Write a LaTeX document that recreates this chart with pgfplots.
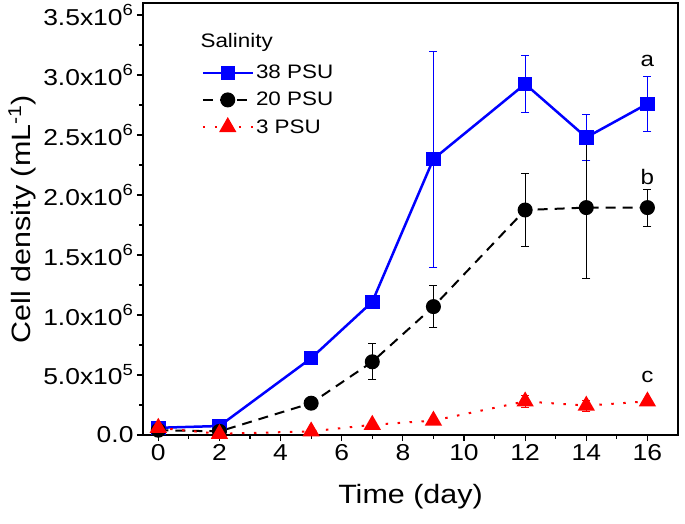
\documentclass[border=0pt]{standalone}
\usepackage{pgfplots}
\pgfplotsset{compat=1.18}
\usepackage{fontspec}
\setmainfont{Liberation Sans}[FakeStretch=1.15]
\begin{document}
\begin{tikzpicture}
\begin{axis}[
 scale only axis, width=535pt, height=432pt,
 xmin=-0.5, xmax=17, ymin=0, ymax=3600000,
 xtick={0,2,...,16}, minor x tick num=1,
 ytick={0,500000,1000000,1500000,2000000,2500000,3000000,3500000}, minor y tick num=1,
 yticklabels={0.0, 5.0x10\textsuperscript{5}, 1.0x10\textsuperscript{6}, 1.5x10\textsuperscript{6}, 2.0x10\textsuperscript{6}, 2.5x10\textsuperscript{6}, 3.0x10\textsuperscript{6}, 3.5x10\textsuperscript{6}},
 scaled y ticks=false,
 tick align=outside, tick pos=left,
 major tick length=6pt, minor tick length=3.5pt,
 tick style={black, line width=1.2pt},
 axis line style={line width=1.3pt},
 ticklabel style={font=\fontsize{23}{25}\selectfont},
 /pgf/number format/assume math mode=true,
 xlabel={Time (day)}, ylabel={Cell density (mL\textsuperscript{-1})},
 label style={font=\fontsize{26.5}{28}\selectfont},
 xlabel style={at={(axis description cs:0.5,-0.1435)}, anchor=center},
 ylabel style={at={(axis description cs:-0.226,0.5)}, anchor=center},
 legend style={draw=none, fill=none, at={(rel axis cs:0.109,0.861)}, anchor=north west, font=\fontsize{19.5}{21}\selectfont, row sep=8pt, inner sep=0pt, /tikz/every even column/.append style={column sep=7pt}},
 legend image code/.code={\draw[mark repeat=2,mark phase=2] plot coordinates {(0pt,0pt)(25pt,0pt)(50pt,0pt)};},
 legend cell align=left,
 clip=false,
]
\addplot[blue, line width=2.5pt, mark=square*, mark size=6pt, mark options={solid},
 error bars/.cd, y dir=both, y explicit,
 error bar style={line width=0.9pt, blue},
 error mark options={rotate=90, mark size=4pt, line width=0.9pt, blue}]
 table[x=x, y=y, y error=e] {
x y e
0 60000 0
2 75000 0
5 640000 0
7 1110000 0
9 2300000 900000
12 2925000 235000
14 2480000 195000
16 2760000 230000
};
\addlegendentry{38 PSU}
\addplot[black, line width=2pt, dash pattern=on 10pt off 7pt, mark=*, mark size=6.5pt, mark options={solid},
 error bars/.cd, y dir=both, y explicit,
 error bar style={line width=0.9pt, black, solid},
 error mark options={rotate=90, mark size=4pt, line width=0.9pt, black, solid}]
 table[x=x, y=y, y error=e] {
x y e
0 40000 0
2 30000 0
5 265000 0
7 610000 150000
9 1070000 175000
12 1875000 305000
14 1895000 590000
16 1895000 155000
};
\addlegendentry{20 PSU}
\addplot[red, line width=2pt, dash pattern=on 2.5pt off 9.5pt, mark=triangle*, mark size=8pt, mark options={solid},
 error bars/.cd, y dir=both, y explicit,
 error bar style={line width=0.9pt, red, solid},
 error mark options={rotate=90, mark size=4pt, line width=0.9pt, red, solid}]
 table[x=x, y=y, y error=e] {
x y e
0 60000 0
2 10000 0
5 30000 0
7 85000 0
9 120000 0
12 280000 50000
14 245000 45000
16 280000 20000
};
\addlegendentry{3 PSU}
\node[font=\fontsize{19.5}{21}\selectfont, anchor=base west] at (rel axis cs:0.101,0.898) {Salinity};
\node[font=\fontsize{21}{22}\selectfont] at (axis cs:16,3120000) {a};
\node[font=\fontsize{21}{22}\selectfont] at (axis cs:16,2150000) {b};
\node[font=\fontsize{21}{22}\selectfont] at (axis cs:16,480000) {c};
\end{axis}
\pgfresetboundingbox
\useasboundingbox ([xshift=-143pt,yshift=-89pt]current axis.south west) rectangle ([xshift=7pt,yshift=3pt]current axis.north east);
\end{tikzpicture}
\end{document}
